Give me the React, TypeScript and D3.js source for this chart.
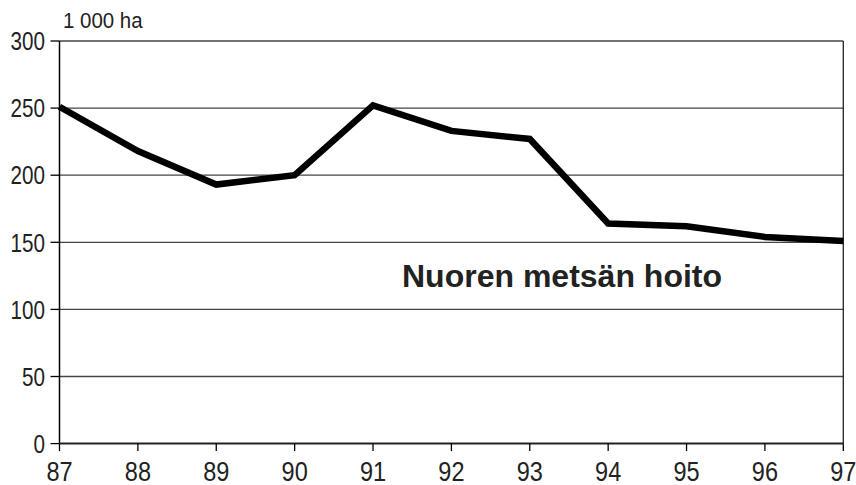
import React from "react";
import * as d3 from "d3";

const years = ["87", "88", "89", "90", "91", "92", "93", "94", "95", "96", "97"];
const values = [251, 218, 193, 200, 252, 233, 227, 164, 162, 154, 151];
const yTicks = [0, 50, 100, 150, 200, 250, 300];
const unitLabel = "1 000 ha";
const seriesLabel = "Nuoren metsän hoito";

export default function App() {
  const W = 856, H = 485;
  const left = 59.5, right = 843.3, top = 41, bottom = 443.6;
  const x = d3.scalePoint<string>().domain(years).range([left, right]);
  const y = d3.scaleLinear().domain([0, 300]).range([bottom, top]);
  const line = d3.line<number>().x((_, i) => x(years[i])!).y((d) => y(d));
  const font = "'Liberation Sans', Arial, sans-serif";
  return (
    <svg width={W} height={H} style={{ position: "absolute", left: 0, top: 0, background: "#fff" }}>
      <rect x={0} y={0} width={W} height={H} fill="#fff" />
      {yTicks.filter((t) => t > 0).map((t) => (
        <line key={t} x1={left} x2={right} y1={y(t)} y2={y(t)} stroke="#444" strokeWidth={1.3} />
      ))}
      <line x1={right} x2={right} y1={top} y2={bottom} stroke="#222" strokeWidth={1.3} />
      <line x1={left} x2={left} y1={top} y2={bottom} stroke="#000" strokeWidth={1.5} />
      <line x1={left} x2={right} y1={bottom} y2={bottom} stroke="#222" strokeWidth={2} />
      {yTicks.map((t) => (
        <g key={t}>
          <line x1={left - 9} x2={left} y1={y(t)} y2={y(t)} stroke="#000" strokeWidth={1.3} />
          <text
            transform={`translate(45,${y(t) + 9.2}) scale(0.8,1)`}
            textAnchor="end"
            fontFamily={font}
            fontSize={25.8}
            fill="#222"
          >
            {t}
          </text>
        </g>
      ))}
      {years.map((yr) => (
        <g key={yr}>
          <line x1={x(yr)!} x2={x(yr)!} y1={bottom} y2={bottom + 7.5} stroke="#000" strokeWidth={1.3} />
          <text
            transform={`translate(${x(yr)!},481) scale(0.84,1)`}
            textAnchor="middle"
            fontFamily={font}
            fontSize={28}
            fill="#222"
          >
            {yr}
          </text>
        </g>
      ))}
      <path d={line(values) || ""} fill="none" stroke="#000" strokeWidth={6.5} strokeLinejoin="miter" />
      <text transform="translate(63,28.3) scale(0.93,1)" fontFamily={font} fontSize={22} fill="#222">
        {unitLabel}
      </text>
      <text x={402} y={286.5} fontFamily={font} fontWeight="bold" fontSize={32} fill="#222">
        {seriesLabel}
      </text>
    </svg>
  );
}
